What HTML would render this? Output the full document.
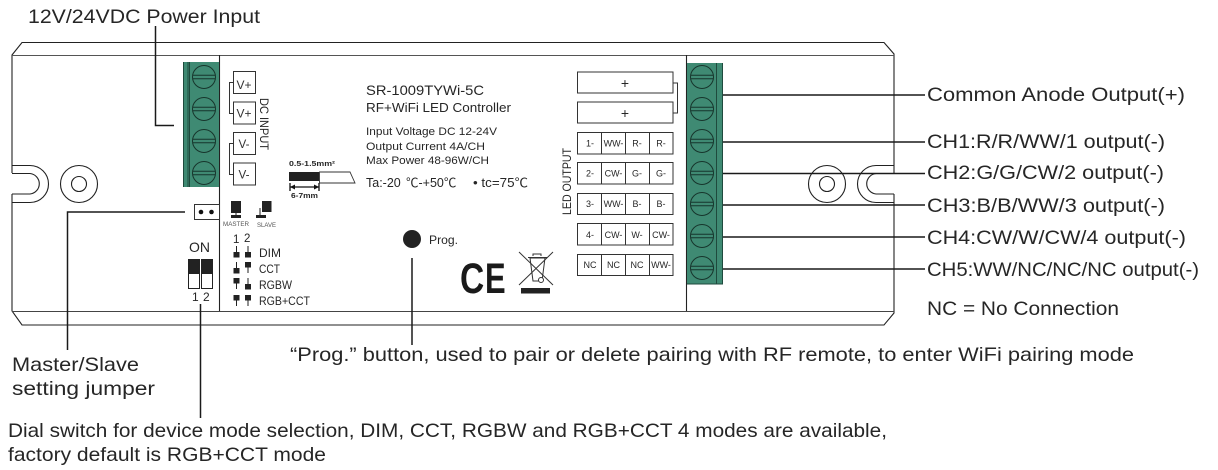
<!DOCTYPE html>
<html><head><meta charset="utf-8"><style>
html,body{margin:0;padding:0;background:#fff;width:1218px;height:470px;overflow:hidden}
svg{display:block}
text{font-family:"Liberation Sans","DejaVu Sans",sans-serif;fill:#262626}
.l{font-size:19.5px}
.s{font-size:11.5px;fill:#333}
</style></head><body>
<svg width="1218" height="470" viewBox="0 0 1218 470" xmlns="http://www.w3.org/2000/svg">
<defs>
<g id="screw" fill="none" stroke="#17352c" stroke-width="1"><circle r="11.5"/><path d="M-11.3 -1.8H11.3M-11.3 1.8H11.3" stroke-width="1"/></g>
</defs>
<!-- housing -->
<g fill="none" stroke="#222" stroke-width="1.1">
<path d="M12 173V55L22 42.500H884L894 54V173"/>
<path d="M12 55.500H894" stroke="#555"/>
<path d="M12 194V311L22 325H884L894 313V194"/>
<path d="M12 311.500H894" stroke="#444"/>
<path d="M12 165.500H30A18.500 18.500 0 0 1 30 202.500H12"/>
<path d="M12 173.500H30A10.300 10.300 0 0 1 30 194H12"/>
<path d="M894 165.500H876A18.500 18.500 0 0 0 876 202.500H894"/>
<path d="M894 173.500H876A10.300 10.300 0 0 0 876 194H894"/>
<circle cx="79" cy="184" r="18.500"/><circle cx="79" cy="184" r="7.500"/>
<circle cx="827" cy="184" r="18.500"/><circle cx="827" cy="184" r="7.500"/>
<path d="M219.500 55V311M686.500 55V311"/>
</g>
<!-- terminals -->
<rect x="183" y="62" width="36" height="125" fill="#3f8a73"/>
<path d="M183.500 62V187M188 62V187M189.500 62V187" stroke="#1f4a3d" fill="none"/>
<use href="#screw" x="204" y="77"/><use href="#screw" x="204" y="109"/><use href="#screw" x="204" y="141"/><use href="#screw" x="204" y="173"/>
<rect x="687" y="63" width="36" height="221" fill="#3f8a73"/>
<path d="M716.500 63V284M722.500 63V284M687 284H723" stroke="#1f4a3d" fill="none"/>
<use href="#screw" x="702" y="77"/><use href="#screw" x="702" y="109"/><use href="#screw" x="702" y="141"/><use href="#screw" x="702" y="173"/><use href="#screw" x="702" y="204"/><use href="#screw" x="702" y="236"/><use href="#screw" x="702" y="268"/>
<!-- connectors -->
<g fill="none" stroke="#1a1a1a" stroke-width="1.500">
<path d="M155.500 26V125.500H174"/>
<path d="M185 212H67.500V350"/>
<path d="M200.500 304V418"/>
<path d="M412 258V345"/>
<path d="M723 95H925M723 142H925M723 173.500H925M723 205H925M723 237H925M723 269H925"/>
</g>
<!-- V boxes -->
<g fill="#fff" stroke="#333" stroke-width="1">
<rect x="233.500" y="71.500" width="22" height="22"/><rect x="233.500" y="102" width="22" height="22"/><rect x="233.500" y="132.500" width="22" height="22"/><rect x="233.500" y="163" width="22" height="22"/>
<path d="M233 82.500H229.500V113.500H233M233 143.500H229.500V174.500H233" fill="none"/>
</g>
<text x="236.500" y="89" class="s" style="font-size:12px" textLength="15" lengthAdjust="spacingAndGlyphs">V+</text>
<text x="236.500" y="117.500" class="s" style="font-size:12px" textLength="15" lengthAdjust="spacingAndGlyphs">V+</text>
<text x="238.500" y="148" class="s" style="font-size:12px" textLength="11" lengthAdjust="spacingAndGlyphs">V-</text>
<text x="238.500" y="178.500" class="s" style="font-size:12px" textLength="11" lengthAdjust="spacingAndGlyphs">V-</text>
<text transform="translate(260,98) rotate(90)" font-size="11.500" textLength="52" lengthAdjust="spacingAndGlyphs">DC INPUT</text>
<!-- product text -->
<text x="366" y="95" font-size="14" textLength="118" lengthAdjust="spacingAndGlyphs">SR-1009TYWi-5C</text>
<text x="366" y="112" font-size="13" textLength="145" lengthAdjust="spacingAndGlyphs">RF+WiFi LED Controller</text>
<text x="366" y="135" font-size="11" textLength="131" lengthAdjust="spacingAndGlyphs">Input Voltage DC 12-24V</text>
<text x="366" y="150" font-size="11" textLength="119" lengthAdjust="spacingAndGlyphs">Output Current 4A/CH</text>
<text x="366" y="164" font-size="11" textLength="123" lengthAdjust="spacingAndGlyphs">Max Power 48-96W/CH</text>
<text x="366" y="187" font-size="12.500" style="font-family:'Liberation Sans','Noto Sans CJK SC',sans-serif">Ta:-20</text>
<text x="406" y="187" font-size="12.500" style="font-family:'Liberation Sans','Noto Sans CJK SC',sans-serif">℃-+50℃</text>
<text x="473" y="187" font-size="12.500" textLength="55" lengthAdjust="spacingAndGlyphs" style="font-family:'Liberation Sans','Noto Sans CJK SC',sans-serif">• tc=75℃</text>
<!-- wire -->
<text x="289" y="166" font-size="7" font-weight="bold" textLength="46" lengthAdjust="spacingAndGlyphs">0.5-1.5mm²</text>
<rect x="289" y="172" width="30" height="9" fill="#222"/>
<path d="M319.500 172H350L355 183H350H319.500Z" fill="#fff" stroke="#333" stroke-width="0.900"/>
<path d="M290 183V191M319 183V191M290 187H319" stroke="#111" stroke-width="1.300" fill="none"/>
<path d="M290 187L295 184.500V189.500ZM319 187L314 184.500V189.500Z" fill="#111"/>
<text x="291" y="198" font-size="7" font-weight="bold" textLength="27" lengthAdjust="spacingAndGlyphs">6-7mm</text>
<!-- LED table -->
<g fill="#fff" stroke="#333" stroke-width="1">
<rect x="577.500" y="72" width="95.500" height="21"/><rect x="577.500" y="102" width="95.500" height="21"/>
<path d="M673 83H677.500V113H673" fill="none"/>
<rect x="577.500" y="132.500" width="95.500" height="21.500"/><rect x="577.500" y="162.500" width="95.500" height="21.500"/><rect x="577.500" y="193.500" width="95.500" height="21"/><rect x="577.500" y="223.500" width="95.500" height="21.500"/><rect x="577.500" y="254.500" width="95.500" height="21"/>
<path d="M601.500 132V154M625.500 132V154M649.500 132V154M601.500 162V184M625.500 162V184M649.500 162V184M601.500 193V215M625.500 193V215M649.500 193V215M601.500 223V245M625.500 223V245M649.500 223V245M601.500 254V276M625.500 254V276M649.500 254V276" fill="none"/>
</g>
<text x="625" y="88" font-size="14" text-anchor="middle">+</text><text x="625" y="118" font-size="14" text-anchor="middle">+</text>
<g font-size="9" text-anchor="middle">
<text x="590" y="146.500">1-</text><text x="613.500" y="146.500">WW-</text><text x="637" y="146.500">R-</text><text x="661" y="146.500">R-</text>
<text x="590" y="176.500">2-</text><text x="613.500" y="176.500">CW-</text><text x="637" y="176.500">G-</text><text x="661" y="176.500">G-</text>
<text x="590" y="207">3-</text><text x="613.500" y="207">WW-</text><text x="637" y="207">B-</text><text x="661" y="207">B-</text>
<text x="590" y="238">4-</text><text x="613.500" y="238">CW-</text><text x="637" y="238">W-</text><text x="661" y="238">CW-</text>
<text x="590" y="268">NC</text><text x="613.500" y="268">NC</text><text x="637" y="268">NC</text><text x="661" y="268">WW-</text>
</g>
<text transform="translate(571,215) rotate(-90)" font-size="11.500" textLength="67" lengthAdjust="spacingAndGlyphs">LED OUTPUT</text>
<!-- jumper -->
<rect x="194.500" y="204.500" width="25" height="15" fill="#fff" stroke="#333"/>
<circle cx="201" cy="212" r="2.300" fill="#111"/><circle cx="211.500" cy="212" r="2.300" fill="#111"/>
<rect x="231" y="201" width="10" height="12" fill="#222"/><path d="M236 213V216" stroke="#222"/><rect x="231" y="215" width="10" height="3" fill="#222"/>
<rect x="262" y="201" width="9.500" height="11" fill="#222"/><path d="M260 208V216" stroke="#222"/><rect x="256" y="215" width="10" height="3" fill="#222"/>
<text x="223" y="226" font-size="6.500" style="fill:#555" textLength="26" lengthAdjust="spacingAndGlyphs">MASTER</text>
<text x="257" y="227" font-size="6.500" style="fill:#555" textLength="19" lengthAdjust="spacingAndGlyphs">SLAVE</text>
<!-- dip -->
<text x="189" y="252" font-size="14" textLength="21" lengthAdjust="spacingAndGlyphs">ON</text>
<rect x="188.500" y="259.500" width="11" height="29" fill="#fff" stroke="#222"/><rect x="188" y="259" width="12" height="15" fill="#222"/>
<rect x="201.500" y="259.500" width="11" height="29" fill="#fff" stroke="#222"/><rect x="201" y="259" width="12" height="15" fill="#222"/>
<text x="192" y="301" font-size="12">1</text><text x="203" y="301" font-size="12">2</text>
<text x="233" y="243" font-size="11.500">1</text><text x="244" y="242" font-size="11.500">2</text>
<!-- mode glyphs -->
<g fill="#222" stroke="#222">
<path d="M236.500 246V257M248 246V257M236.500 262V273M248 262V273M236.500 278V289M248 278V289M236.500 295V306M248 295V306" fill="none"/>
<g stroke="none">
<rect x="233.500" y="252" width="6" height="5.500"/><rect x="245" y="252" width="6" height="5.500"/>
<rect x="233.500" y="268" width="6" height="5.500"/><rect x="245" y="262" width="6" height="5.500"/>
<rect x="233.500" y="278" width="6" height="5.500"/><rect x="245" y="284" width="6" height="5.500"/>
<rect x="233.500" y="295" width="6" height="5.500"/><rect x="245" y="295" width="6" height="5.500"/>
</g></g>
<text x="259" y="257" font-size="11.500" textLength="22" lengthAdjust="spacingAndGlyphs">DIM</text>
<text x="259" y="273" font-size="11.500" textLength="21" lengthAdjust="spacingAndGlyphs">CCT</text>
<text x="259" y="289" font-size="11.500" textLength="33" lengthAdjust="spacingAndGlyphs">RGBW</text>
<text x="259" y="305" font-size="11.500" textLength="51" lengthAdjust="spacingAndGlyphs">RGB+CCT</text>
<!-- prog -->
<circle cx="412" cy="239" r="9" fill="#222"/>
<text x="429" y="244" font-size="11.500" textLength="29" lengthAdjust="spacingAndGlyphs">Prog.</text>
<!-- CE -->
<text transform="translate(460,293) scale(0.78,1)" font-size="43" font-weight="bold" style="fill:#1a1a1a">C</text>
<text transform="translate(485,293) scale(0.72,1)" font-size="43" font-weight="bold" style="fill:#1a1a1a">E</text>
<!-- WEEE -->
<g fill="none" stroke="#333" stroke-width="1">
<path d="M519 252L553 285M553 252L519 285"/>
<path d="M530 258H545L542 281H533Z"/><path d="M528 257.500H547M533 256V254H541V256"/>
<circle cx="541" cy="280" r="2.500" fill="#fff"/>
</g>
<rect x="521" y="288" width="29" height="5.500" fill="#222"/>
<!-- labels -->
<text class="l" x="28" y="23" textLength="232" lengthAdjust="spacingAndGlyphs">12V/24VDC Power Input</text>
<text class="l" x="927" y="101" textLength="258" lengthAdjust="spacingAndGlyphs">Common Anode Output(+)</text>
<text class="l" x="927" y="148" textLength="238" lengthAdjust="spacingAndGlyphs">CH1:R/R/WW/1 output(-)</text>
<text class="l" x="927" y="179" textLength="237" lengthAdjust="spacingAndGlyphs">CH2:G/G/CW/2 output(-)</text>
<text class="l" x="927" y="212" textLength="238" lengthAdjust="spacingAndGlyphs">CH3:B/B/WW/3 output(-)</text>
<text class="l" x="927" y="244" textLength="259" lengthAdjust="spacingAndGlyphs">CH4:CW/W/CW/4 output(-)</text>
<text class="l" x="927" y="276" textLength="272" lengthAdjust="spacingAndGlyphs">CH5:WW/NC/NC/NC output(-)</text>
<text class="l" x="927" y="315" textLength="192" lengthAdjust="spacingAndGlyphs">NC = No Connection</text>
<text class="l" x="12" y="371" textLength="127" lengthAdjust="spacingAndGlyphs">Master/Slave</text>
<text class="l" x="12" y="395" textLength="143" lengthAdjust="spacingAndGlyphs">setting jumper</text>
<text class="l" x="290" y="361" textLength="844" lengthAdjust="spacingAndGlyphs">“Prog.” button, used to pair or delete pairing with RF remote, to enter WiFi pairing mode</text>
<text class="l" x="8" y="437" textLength="879" lengthAdjust="spacingAndGlyphs">Dial switch for device mode selection, DIM, CCT, RGBW  and RGB+CCT 4 modes are available,</text>
<text class="l" x="8" y="461" textLength="318" lengthAdjust="spacingAndGlyphs">factory default is RGB+CCT mode</text>
</svg>
</body></html>
